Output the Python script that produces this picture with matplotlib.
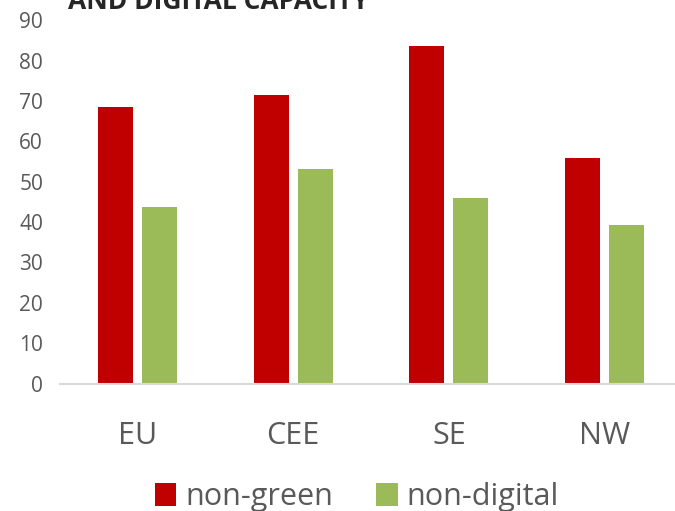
import matplotlib
matplotlib.use("Agg")
import matplotlib.pyplot as plt
import numpy as np

regions = ["EU", "CEE", "SE", "NW"]
non_green = [68.6, 71.6, 83.6, 56.0]
non_digital = [43.8, 53.1, 46.0, 39.2]
y_ticks = [0, 10, 20, 30, 40, 50, 60, 70, 80, 90]

plt.rcParams["font.family"] = ["Open Sans", "DejaVu Sans"]

fig = plt.figure(figsize=(6.75, 5.11), dpi=100)
ax = fig.add_axes([0.0884, 0.2495, 0.9227, 0.7105])

x = np.arange(len(regions))
w = 0.225
off = 0.141
ax.bar(x - off, non_green, width=w, color="#c00000", label="non-green")
ax.bar(x + off, non_digital, width=w, color="#9bbb59", label="non-digital")

ax.set_xlim(-0.5, len(regions) - 0.5)
ax.set_ylim(0, 90)
ax.set_yticks(y_ticks)
ax.set_xticks(x)
ax.set_xticklabels(regions)
ax.tick_params(axis="y", length=0, labelsize=15, labelcolor="#595959", pad=12)
ax.tick_params(axis="x", length=0, labelsize=22, labelcolor="#595959", pad=27)
for s in ["top", "right", "left"]:
    ax.spines[s].set_visible(False)
ax.spines["bottom"].set_color("#d9d9d9")
ax.spines["bottom"].set_linewidth(1.5)

# title runs off the top edge in the original export
fig.text(68 / 675, 1 - 9 / 511, "AND DIGITAL CAPACITY", fontsize=19,
         fontweight="bold", color="#262626", va="baseline", ha="left")

fig.legend(loc="center", bbox_to_anchor=(357 / 675, 1 - 497 / 511), ncol=2,
           frameon=False, fontsize=22, labelcolor="#595959",
           handlelength=0.7, handleheight=0.75, handletextpad=0.3,
           columnspacing=1.4)

fig.savefig("out.png", dpi=100)
